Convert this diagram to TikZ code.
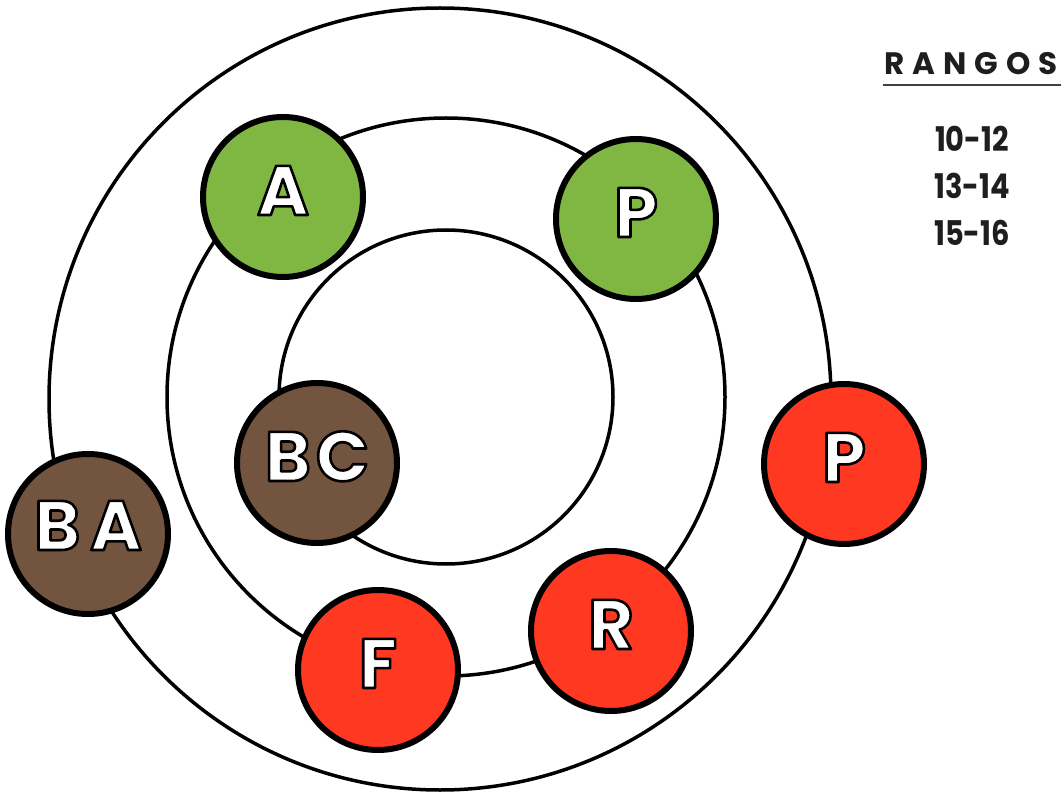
\documentclass[tikz,border=0pt]{standalone}
\usepackage{fontspec}
\setmainfont{Poppins}
\definecolor{grn}{RGB}{128,183,66}
\definecolor{brn}{RGB}{114,84,63}
\definecolor{rd}{RGB}{255,56,34}
\definecolor{ink}{RGB}{30,30,30}
\newcommand\olt[1]{\leavevmode{\color{white}\special{pdf:literal direct 0 0 0 RG 2.6 w 1 j 2 Tr}#1\special{pdf:literal direct 0 Tr}}}
\begin{document}
\begin{tikzpicture}[x=1pt,y=-1pt,
  ring/.style={circle, draw=black, line width=3.5pt, inner sep=0pt, fill=none},
  disc/.style={circle, draw=black, line width=6pt, minimum size=160pt, inner sep=0pt},
  lettr/.style={font=\fontsize{70}{70}\selectfont\bfseries, inner sep=0pt, anchor=base},
  numf/.style={font=\fontsize{34}{34}\selectfont\bfseries, inner sep=0pt, anchor=base, text=ink},
  rangos/.style={font=\fontsize{31}{31}\selectfont\bfseries\addfontfeatures{LetterSpace=26}, inner sep=0pt, anchor=base west, text=ink}]
\useasboundingbox (0,0) rectangle (1061,794);
% rings
\node[ring, minimum size=782pt] (outer) at (440,399) {};
\node[ring, minimum size=558pt] (middle) at (446,397) {};
\node[ring, minimum size=334pt] (inner) at (446,397) {};
% discs
\node[disc, fill=grn] (dA) at (283,197) {};
\node[disc, fill=grn] (dPg) at (636,219) {};
\node[disc, fill=rd] (dPr) at (844,464) {};
\node[disc, fill=brn] (dBC) at (317,463) {};
\node[disc, fill=brn] (dBA) at (88,534) {};
\node[disc, fill=rd] (dF) at (378,670) {};
\node[disc, fill=rd] (dR) at (611,631) {};
% letters
\node[lettr] (tA) at (283,215) {\olt{A}};
\node[lettr] (tPg) at (636,237) {\olt{P}};
\node[lettr] (tPr) at (844,482) {\olt{P}};
\node[lettr] (tBC) at (317,481) {\olt{B\kern5pt C}};
\node[lettr] (tBA) at (88,550) {\olt{B\kern10pt A}};
\node[lettr] (tF) at (378,688) {\olt{F}};
\node[lettr] (tR) at (611,649) {\olt{R}};
% legend
\node[rangos] (rg) at (884,75) {RANGOS\kern-8pt};
\coordinate (ulL) at (883,85);
\coordinate (ulR) at (1061,85);
\draw[line width=2.5pt, draw=ink!85] (ulL) -- (ulR);
\node[numf] (n1) at (972,152) {\scalebox{0.85}[1]{10-12}};
\node[numf] (n2) at (972,199) {\scalebox{0.85}[1]{13-14}};
\node[numf] (n3) at (972,246) {\scalebox{0.85}[1]{15-16}};
\end{tikzpicture}
\end{document}
